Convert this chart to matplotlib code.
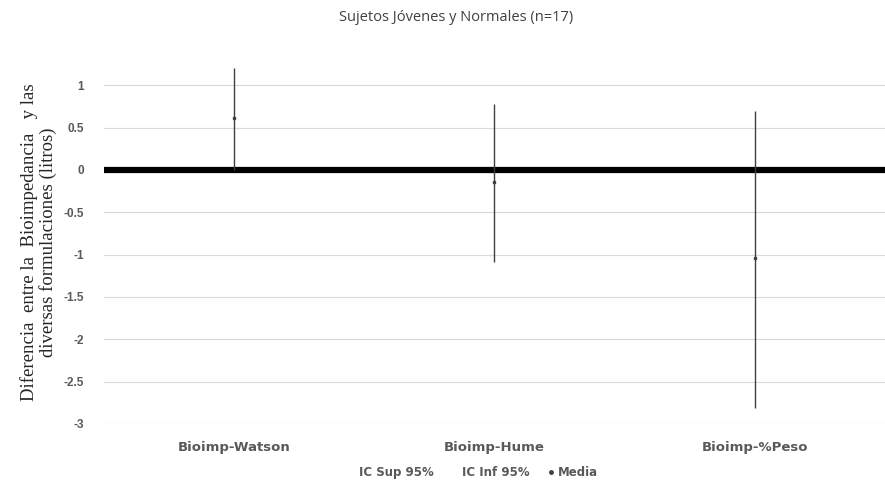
import numpy as np
import matplotlib.pyplot as plt
from matplotlib.lines import Line2D

categorias = ["Bioimp-Watson", "Bioimp-Hume", "Bioimp-%Peso"]
ic_sup = [1.20, 0.78, 0.70]
ic_inf = [0.00, -1.09, -2.81]
media = [0.62, -0.14, -1.04]
yticks = [1, 0.5, 0, -0.5, -1, -1.5, -2, -2.5, -3]

gris = "#595959"

fig = plt.figure(figsize=(8.85, 4.8), dpi=100)
ax = fig.add_axes([0.117, 0.117, 0.883, 0.758])

x = np.arange(len(categorias))
ax.vlines(x, ic_inf, ic_sup, color="#404040", linewidth=1.0, zorder=3)
ax.plot(x, media, linestyle="none", marker="s", markersize=2,
        color="#404040", zorder=4)

# linea gruesa en cero
ax.axhline(0, color="black", linewidth=4.5, zorder=2)

ax.set_xlim(-0.5, 2.5)
ax.set_ylim(-3, 1.3)
ax.set_yticks(yticks)
ax.set_yticklabels([("%g" % v) for v in yticks], fontsize=8.5, color=gris,
                   family="Liberation Sans", fontweight="bold")
ax.set_xticks(x)
ax.set_xticklabels(categorias, fontsize=9.5, color=gris, fontweight="bold",
                   family="DejaVu Sans")
ax.tick_params(length=0)
ax.tick_params(axis="y", pad=14)
ax.tick_params(axis="x", pad=12)
ax.grid(axis="y", color="#d9d9d9", linewidth=0.8, zorder=0)
for s in ax.spines.values():
    s.set_visible(False)

ax.set_ylabel("Diferencia  entre la  Bioimpedancia   y las\ndiversas formulaciones (litros)",
              family="Liberation Serif", fontsize=13.5, color="#262626",
              linespacing=1.05, labelpad=5)

fig.text(0.515, 0.963, "Sujetos Jóvenes y Normales (n=17)", ha="center",
         va="center", fontsize=10.5, color="#404040", family="Open Sans")

handles = [
    Line2D([], [], linestyle="none"),
    Line2D([], [], linestyle="none"),
    Line2D([], [], linestyle="none", marker="o", markersize=2.5, color="#404040"),
]
fig.legend(handles, ["IC Sup 95%", "IC Inf 95%", "Media"], loc="center",
           bbox_to_anchor=(0.535, 0.016), ncol=3, frameon=False,
           prop={"family": "DejaVu Sans", "size": 8.5, "weight": "bold"},
           labelcolor=gris, handlelength=0.6, handletextpad=0.3, columnspacing=1.5)

plt.savefig("out.png", dpi=100)
